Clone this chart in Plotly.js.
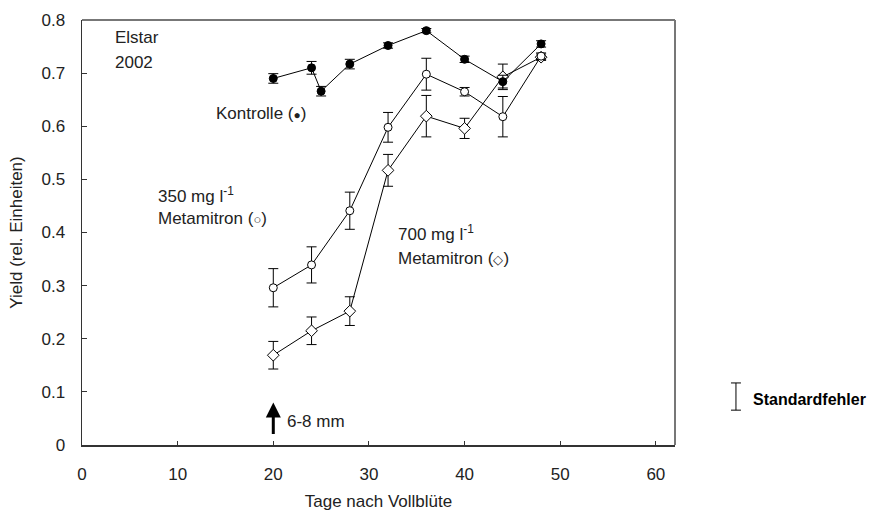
<!DOCTYPE html>
<html>
<head>
<meta charset="utf-8">
<script src="https://cdn.plot.ly/plotly-3.0.1.min.js"></script>
<style>html,body{margin:0;padding:0;background:#fff;}#chart{width:874px;height:515px;}</style>
</head>
<body>
<div id="chart"></div>
<script>
// Days after full bloom
const tage = [20, 24, 25, 28, 32, 36, 40, 44, 48];
const tageMetamitron = [20, 24, 28, 32, 36, 40, 44, 48];

// Kontrolle (filled circles)
const kontrolle = [0.690, 0.710, 0.666, 0.717, 0.752, 0.780, 0.726, 0.684, 0.755];
const kontrolleSE = [0.009, 0.012, 0.009, 0.009, 0.005, 0.004, 0.006, 0.012, 0.006];

// 350 mg/l Metamitron (open circles)
const met350 = [0.296, 0.339, 0.441, 0.598, 0.698, 0.665, 0.618, 0.732];
const met350SE = [0.036, 0.034, 0.035, 0.028, 0.030, 0.008, 0.038, 0.006];

// 700 mg/l Metamitron (open diamonds)
const met700 = [0.169, 0.215, 0.252, 0.517, 0.619, 0.596, 0.693, 0.730];
const met700SE = [0.026, 0.026, 0.027, 0.030, 0.039, 0.019, 0.024, 0.006];

const xTicks = [0, 10, 20, 30, 40, 50, 60];
const yTicks = [0, 0.1, 0.2, 0.3, 0.4, 0.5, 0.6, 0.7, 0.8];
const yTickLabels = ['0', '0.1', '0.2', '0.3', '0.4', '0.5', '0.6', '0.7', '0.8'];

const FONT = 'Liberation Sans, Arial, sans-serif';
const TXT = '#222';

function errBar(arr) {
  return {type: 'data', array: arr, visible: true, color: '#000', thickness: 1, width: 5};
}

const traces = [
  {
    x: tageMetamitron, y: met700, mode: 'lines+markers', name: '700',
    line: {color: '#000', width: 1},
    marker: {symbol: 'diamond', size: 9, color: '#fff', line: {color: '#000', width: 1}},
    error_y: errBar(met700SE), cliponaxis: false
  },
  {
    x: tageMetamitron, y: met350, mode: 'lines+markers', name: '350',
    line: {color: '#000', width: 1},
    marker: {symbol: 'circle', size: 8, color: '#fff', line: {color: '#000', width: 1}},
    error_y: errBar(met350SE), cliponaxis: false
  },
  {
    x: tage, y: kontrolle, mode: 'lines+markers', name: 'Kontrolle',
    line: {color: '#000', width: 1},
    marker: {symbol: 'circle', size: 8, color: '#000', line: {color: '#000', width: 1}},
    error_y: errBar(kontrolleSE), cliponaxis: false
  }
];

const annFont = {family: FONT, size: 17, color: TXT};

const layout = {
  width: 874, height: 515,
  margin: {l: 82, r: 199, t: 20, b: 70},
  paper_bgcolor: '#fff', plot_bgcolor: '#fff',
  showlegend: false,
  font: {family: FONT, size: 16, color: TXT},
  xaxis: {
    range: [0, 62], tickvals: xTicks, ticktext: xTicks.map(String),
    ticks: 'inside', ticklen: 4, tickcolor: '#333', tickwidth: 1,
    showline: true, linecolor: '#333', linewidth: 1.5,
    showgrid: false, zeroline: false, automargin: false,
    tickfont: {family: FONT, size: 17, color: TXT},
    ticklabelstandoff: 13,
    title: {text: 'Tage nach Vollblüte', font: {family: FONT, size: 17, color: TXT}}
  },
  yaxis: {
    range: [0, 0.8], tickvals: yTicks, ticktext: yTickLabels,
    ticks: 'inside', ticklen: 5, tickcolor: '#333', tickwidth: 1,
    showline: true, linecolor: '#333', linewidth: 1.5,
    showgrid: false, zeroline: false, automargin: true,
    tickfont: {family: FONT, size: 17, color: TXT},
    ticklabelstandoff: 12,
    title: {text: 'Yield (rel. Einheiten)', font: {family: FONT, size: 17, color: TXT}, standoff: 14}
  },
  shapes: [
    // top and right frame
    {type: 'line', xref: 'paper', yref: 'paper', x0: 0, x1: 1, y0: 1, y1: 1, line: {color: '#777', width: 2}},
    {type: 'line', xref: 'paper', yref: 'paper', x0: 1, x1: 1, y0: 0, y1: 1, line: {color: '#777', width: 2}},
    // Standardfehler symbol
    {type: 'line', xref: 'paper', yref: 'paper', x0: 1.1028, x1: 1.1028, y0: 0.082, y1: 0.146, line: {color: '#000', width: 1}},
    {type: 'line', xref: 'paper', yref: 'paper', x0: 1.0944, x1: 1.1112, y0: 0.082, y1: 0.082, line: {color: '#000', width: 1}},
    {type: 'line', xref: 'paper', yref: 'paper', x0: 1.0944, x1: 1.1112, y0: 0.146, y1: 0.146, line: {color: '#000', width: 1}}
  ],
  annotations: [
    {x: 0.052, y: 0.96, xref: 'paper', yref: 'paper', xanchor: 'left', yanchor: 'middle', showarrow: false,
     text: 'Elstar', font: annFont},
    {x: 0.052, y: 0.901, xref: 'paper', yref: 'paper', xanchor: 'left', yanchor: 'middle', showarrow: false,
     text: '2002', font: annFont},
    {x: 0.222, y: 0.781, xref: 'paper', yref: 'paper', xanchor: 'left', yanchor: 'middle', showarrow: false,
     text: 'Kontrolle (<span style="font-size:12px">●</span>)', font: annFont},
    {x: 0.125, y: 0.588, xref: 'paper', yref: 'paper', xanchor: 'left', yanchor: 'middle', showarrow: false,
     text: '350 mg l<sup>-1</sup>', font: annFont},
    {x: 0.125, y: 0.532, xref: 'paper', yref: 'paper', xanchor: 'left', yanchor: 'middle', showarrow: false,
     text: 'Metamitron (<span style="font-size:13px">○</span>)', font: annFont},
    {x: 0.530, y: 0.5, xref: 'paper', yref: 'paper', xanchor: 'left', yanchor: 'middle', showarrow: false,
     text: '700 mg l<sup>-1</sup>', font: annFont},
    {x: 0.530, y: 0.438, xref: 'paper', yref: 'paper', xanchor: 'left', yanchor: 'middle', showarrow: false,
     text: 'Metamitron (<span style="font-size:13px">◇</span>)', font: annFont},
    // arrow 6-8 mm
    {x: 20, y: 0.080, xref: 'x', yref: 'y', ax: 20, ay: 0.018, axref: 'x', ayref: 'y',
     showarrow: true, arrowhead: 2, arrowsize: 1, arrowwidth: 3, arrowcolor: '#000', text: ''},
    {x: 21.2, y: 0.044, xref: 'x', yref: 'y', xanchor: 'left', yanchor: 'middle', showarrow: false,
     text: '6-8 mm', font: annFont},
    // Standardfehler label
    {x: 1.128, y: 0.106, xref: 'paper', yref: 'paper', xanchor: 'left', yanchor: 'middle', showarrow: false,
     text: '<b>Standardfehler</b>', font: {family: FONT, size: 16, color: '#000'}}
  ]
};

Plotly.newPlot('chart', traces, layout, {staticPlot: true, displayModeBar: false});
</script>
</body>
</html>
